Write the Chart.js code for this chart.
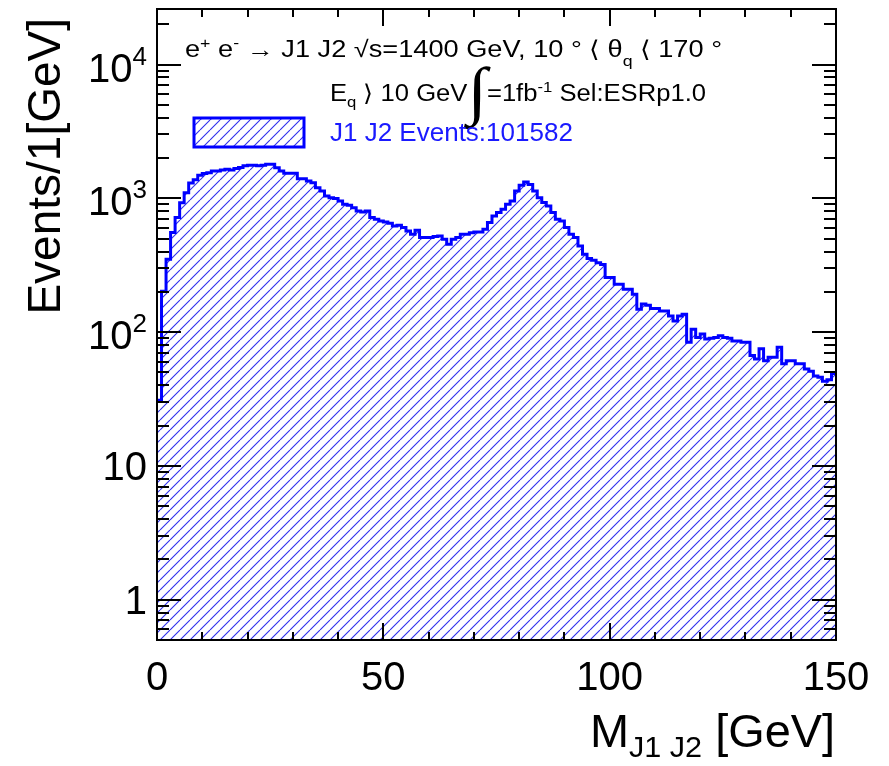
<!DOCTYPE html>
<html>
<head>
<meta charset="utf-8">
<script src="https://cdn.jsdelivr.net/npm/chart.js@4.4.1/dist/chart.umd.min.js"></script>
<style>
html,body{margin:0;padding:0;background:#fff;}
#wrap{width:889px;height:766px;position:relative;}
</style>
</head>
<body>
<div id="wrap"><canvas id="c" width="889" height="766"></canvas></div>
<script>
// ---------------- DATA ----------------
const binLow = 0;          // first bin lower edge [GeV]
const binWidth = 1;        // GeV
const counts = [
  31, 202, 350, 556, 718, 928, 1100, 1300, 1375, 1485,
  1535, 1555, 1600, 1600, 1630, 1650, 1630, 1670, 1700, 1750,
  1770, 1770, 1750, 1770, 1800, 1800, 1695, 1600, 1537, 1537,
  1537, 1403, 1403, 1346, 1310, 1202, 1133, 1040, 1012, 996,
  955, 902, 887, 852, 803, 790, 803, 718, 697, 677,
  666, 650, 621, 629, 604, 570, 538, 577, 509, 509,
  509, 518, 523, 494, 454, 494, 509, 538, 538, 554,
  560, 560, 587, 659, 738, 782, 827, 902, 955, 1133,
  1250, 1323, 1271, 1133, 1012, 929, 877, 782, 697, 677,
  604, 538, 509, 441, 382, 355, 345, 330, 320, 256,
  256, 228, 228, 209, 209, 192, 148, 162, 159, 150,
  150, 144, 144, 132, 121, 132, 136, 84, 105, 91,
  97, 89, 90, 91, 94, 91, 90, 86, 86, 84,
  84, 67, 63, 75, 61, 65, 65, 77, 58, 61,
  61, 58, 58, 53, 51, 47, 46, 43, 44, 49
];
const legendLabel = 'J1 J2 Events:101582';
const xMajorTicks = [0, 50, 100, 150];
const xTickLabels = ['0', '50', '100', '150'];
const yMajorTicks = [1, 10, 100, 1000, 10000];
const yTickBase = ['1', '10', '10', '10', '10'];
const yTickExp  = ['', '', '2', '3', '4'];
const xRange = [0, 150];
const yRange = [0.5, 26000];

// ---------------- HELPERS ----------------
const FONT = "'Liberation Sans', Arial, Helvetica, sans-serif";

function makeHatch(ctx) {
  const w = 10, h = 10;
  const c = document.createElement('canvas');
  c.width = w; c.height = h;
  const g = c.getContext('2d');
  g.strokeStyle = 'rgba(25,25,235,0.9)';
  g.lineWidth = 1.1;
  g.beginPath();
  for (let k = -1; k <= 1; k++) { g.moveTo(k * w, h); g.lineTo(k * w + w, 0); }
  g.stroke();
  return ctx.createPattern(c, 'repeat');
}

function drawRuns(ctx, runs, x, baseline, fitWidth, color) {
  let total = 0;
  for (const r of runs) {
    ctx.font = `${r[1]}px ${r[3] || FONT}`;
    total += ctx.measureText(r[0]).width;
  }
  const sx = fitWidth ? fitWidth / total : 1;
  ctx.save();
  ctx.translate(x, baseline);
  ctx.scale(sx, 1);
  ctx.fillStyle = color || '#000';
  ctx.textAlign = 'left';
  ctx.textBaseline = 'alphabetic';
  let cx = 0;
  for (const r of runs) {
    ctx.font = `${r[1]}px ${r[3] || FONT}`;
    ctx.fillText(r[0], cx, r[2]);
    cx += ctx.measureText(r[0]).width;
  }
  ctx.restore();
}

// ---------------- ROOT-like frame, ticks, labels ----------------
const rootStyle = {
  id: 'rootStyle',
  afterDatasetsDraw(chart) {
    const { ctx, chartArea: a, scales: { x, y } } = chart;
    ctx.save();
    ctx.strokeStyle = '#000';
    ctx.lineWidth = 2;
    const seg = (x1, y1, x2, y2) => { ctx.beginPath(); ctx.moveTo(x1, y1); ctx.lineTo(x2, y2); ctx.stroke(); };

    // x ticks (bottom & top)
    for (let v = xRange[0]; v <= xRange[1]; v += 10) {
      const px = Math.round(x.getPixelForValue(v));
      const L = xMajorTicks.includes(v) ? 17 : 8;
      seg(px, a.bottom, px, a.bottom - L);
      seg(px, a.top, px, a.top + L);
    }
    // y ticks (left & right), log
    for (let d = -1; d <= 4; d++) {
      for (let m = 1; m <= 9; m++) {
        const v = m * Math.pow(10, d);
        if (v < yRange[0] || v > yRange[1]) continue;
        const py = Math.round(y.getPixelForValue(v));
        const L = m === 1 ? 24 : 12;
        seg(a.left, py, a.left + L, py);
        seg(a.right, py, a.right - L, py);
      }
    }
    // frame
    ctx.strokeRect(a.left, a.top, a.right - a.left, a.bottom - a.top);

    // x tick labels
    ctx.fillStyle = '#000';
    ctx.font = `40px ${FONT}`;
    ctx.textAlign = 'center';
    ctx.textBaseline = 'alphabetic';
    xMajorTicks.forEach((v, i) => {
      ctx.fillText(xTickLabels[i], x.getPixelForValue(v), 690);
    });

    // y tick labels (right-aligned, with exponent)
    yMajorTicks.forEach((v, i) => {
      const py = y.getPixelForValue(v);
      const rightEdge = 147;
      ctx.font = `26px ${FONT}`;
      const ew = yTickExp[i] ? ctx.measureText(yTickExp[i]).width : 0;
      ctx.font = `40px ${FONT}`;
      const bw = ctx.measureText(yTickBase[i]).width;
      const base = py + 14 + (yTickExp[i] ? 3 : 0);
      ctx.textAlign = 'left';
      ctx.fillText(yTickBase[i], rightEdge - ew - bw, base);
      if (yTickExp[i]) {
        ctx.font = `26px ${FONT}`;
        ctx.fillText(yTickExp[i], rightEdge - ew, base - 17);
      }
    });

    // axis titles
    drawRuns(ctx, [['M', 46, 0], ['J1 J2', 30, 10], [' [GeV]', 46, 0]], 590, 747, 245);
    ctx.save();
    ctx.translate(60, 18);
    ctx.rotate(-Math.PI / 2);
    ctx.font = `46px ${FONT}`;
    ctx.textAlign = 'right';
    ctx.textBaseline = 'alphabetic';
    ctx.fillStyle = '#000';
    ctx.fillText('Events/1[GeV]', 0, 0);
    ctx.restore();

    // annotation text
    drawRuns(ctx, [
      ['e', 23, 0], ['+', 15, -9], [' e', 23, 0], ['-', 15, -9],
      [' \u2192 J1 J2 ', 23, 0], ['\u221As', 23, 0], ['=1400 GeV, 10 \u00B0 \u27E8 ', 23, 0],
      ['\u03B8', 23, 0], ['q', 15, 9], [' \u27E8 170 \u00B0', 23, 0]
    ], 185, 57, 537);
    drawRuns(ctx, [
      ['E', 23, 0], ['q', 15, 6], [' \u27E9 10 GeV', 23, 0],
      ['\u222B', 64, 11, "'Liberation Serif', serif"],
      ['=1fb', 23, 0], ['-1', 15, -9], [' Sel:ESRp1.0', 23, 0]
    ], 330, 101, 376);

    // legend
    const ds = chart.data.datasets[0];
    ctx.fillStyle = ds.backgroundColor;
    ctx.fillRect(194, 118, 110, 29);
    ctx.strokeStyle = ds.borderColor;
    ctx.lineWidth = 3;
    ctx.strokeRect(194, 118, 110, 29);
    ctx.fillStyle = '#1a1aff';
    ctx.font = `26px ${FONT}`;
    ctx.textAlign = 'left';
    ctx.fillText(ds.label, 330, 141);

    ctx.restore();
  }
};

// ---------------- CHART ----------------
const canvas = document.getElementById('c');
const ctx0 = canvas.getContext('2d');
const points = counts.map((v, i) => ({ x: binLow + i * binWidth, y: v }));
points.push({ x: binLow + counts.length * binWidth, y: counts[counts.length - 1] });

new Chart(ctx0, {
  type: 'line',
  data: {
    datasets: [{
      label: legendLabel,
      data: points,
      stepped: true,
      borderColor: '#0000ff',
      borderWidth: 3,
      backgroundColor: makeHatch(ctx0),
      fill: 'start',
      pointRadius: 0,
      tension: 0
    }]
  },
  options: {
    responsive: false,
    animation: false,
    devicePixelRatio: 1,
    layout: { padding: { left: 157, right: 53, top: 9, bottom: 126 } },
    plugins: { legend: { display: false }, tooltip: { enabled: false } },
    scales: {
      x: { type: 'linear', min: xRange[0], max: xRange[1], display: false },
      y: { type: 'logarithmic', min: yRange[0], max: yRange[1], display: false }
    }
  },
  plugins: [rootStyle]
});
</script>
</body>
</html>
